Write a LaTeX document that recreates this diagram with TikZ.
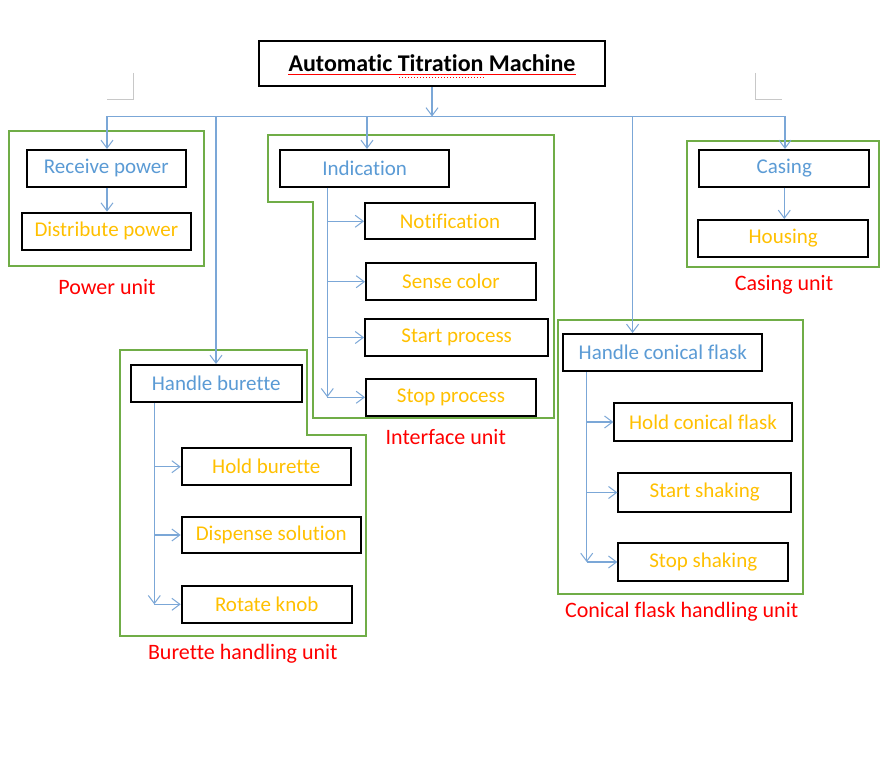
\documentclass[tikz,border=0pt]{standalone}
\usepackage{fontspec}
\setmainfont{Carlito}[Ligatures=NoCommon]
\usetikzlibrary{arrows.meta,calc}
\definecolor{cblue}{HTML}{5B9BD5}
\definecolor{cline}{HTML}{7BA7D7}
\definecolor{cyel}{HTML}{FFC000}
\definecolor{cgreen}{HTML}{70AD47}
\definecolor{cred}{HTML}{FF0000}
\definecolor{cgray}{HTML}{C8C8C8}
\newcommand{\bxfont}{\fontsize{21pt}{24pt}\selectfont}
\newcommand{\lbfont}{\fontsize{22pt}{26pt}\selectfont}
\newcommand{\ttlfont}{\fontsize{24pt}{28pt}\selectfont\bfseries}
\tikzset{
  bx/.style={draw=black, line width=2pt, inner sep=0pt, font=\bxfont},
  bxtop/.style={bx, text=cblue},
  bxsub/.style={bx, text=cyel},
  unitline/.style={draw=cgreen, line width=2pt},
  conn/.style={draw=cline, line width=1.2pt},
  arr/.style={conn, -{Straight Barb[length=8pt,width=12pt,line width=1pt]}},
  unitlabel/.style={text=cred, font=\lbfont, inner sep=0pt},
  cornermark/.style={draw=cgray, line width=1pt}
}
\begin{document}
\begin{tikzpicture}[x=1pt,y=-1pt]
\useasboundingbox (0,0) rectangle (886,770);
\fill[white] (0,0) rectangle (886,770);

% corner marks
\draw[cornermark] (133,73) -- (133,100) -- (107,100);
\draw[cornermark] (755,73) -- (755,100) -- (782,100);

% title
\node[bx, line width=2.5pt, minimum width=346pt, minimum height=45pt, font=\ttlfont] (title) at (432,63.5) {Automatic Titration Machine};
\draw[cred, line width=1.5pt] (288,74.5) -- (576,74.5);
\draw[cred, line width=1pt, dotted] (399,77.5) -- (485,77.5);

% green unit outlines
\draw[unitline] (9,131) rectangle (204,266);
\draw[unitline] (268.3,135) -- (554.3,135) -- (554.3,418.3) -- (313.3,418.3) -- (313.3,201.7) -- (268.3,201.7) -- cycle;
\draw[unitline] (120,350) -- (306.7,350) -- (306.7,435) -- (366,435) -- (366,635.7) -- (120,635.7) -- cycle;
\draw[unitline] (558.3,320) rectangle (803.3,594);
\draw[unitline] (687.3,141) rectangle (879.3,267.3);

% boxes
\node[bxtop, minimum width=159.3pt, minimum height=36.7pt] (rp) at (106.3,168.3) {Receive power};
\node[bxsub, minimum width=169.3pt, minimum height=37.3pt] (dp) at (106.3,231.3) {Distribute power};

\node[bxtop, minimum width=169.3pt, minimum height=36.7pt] (ind) at (364.7,168.3) {Indication};
\node[bxsub, minimum width=170pt, minimum height=36pt] (notif) at (450,221.3) {Notification};
\node[bxsub, minimum width=170pt, minimum height=36.7pt] (sense) at (451,281.7) {Sense color};
\node[bxsub, minimum width=183.3pt, minimum height=37pt] (startp) at (456.7,337.5) {Start process};
\node[bxsub, minimum width=170pt, minimum height=36.7pt] (stopp) at (451,397.3) {Stop process};

\node[bxtop, minimum width=171pt, minimum height=36.7pt] (hb) at (216.2,383.3) {Handle burette};
\node[bxsub, minimum width=169.3pt, minimum height=36.7pt] (holdb) at (266.3,466.7) {Hold burette};
\node[bxsub, minimum width=179.3pt, minimum height=36.7pt] (disp) at (271.3,535) {Dispense solution};
\node[bxsub, minimum width=170pt, minimum height=36.7pt] (rot) at (266.7,604.3) {Rotate knob};

\node[bxtop, minimum width=199pt, minimum height=37pt] (hcf) at (662.8,352.5) {Handle conical flask};
\node[bxsub, minimum width=177.3pt, minimum height=37.3pt] (holdf) at (703,422) {Hold conical flask};
\node[bxsub, minimum width=172.7pt, minimum height=38.3pt] (startsh) at (704.7,492.5) {Start shaking};
\node[bxsub, minimum width=170pt, minimum height=37.3pt] (stopsh) at (703.3,562) {Stop shaking};

\node[bxtop, minimum width=170pt, minimum height=36.7pt] (casing) at (784.3,168.3) {Casing};
\node[bxsub, minimum width=169.7pt, minimum height=36.7pt] (housing) at (783.2,238.3) {Housing};

% labels
\node[unitlabel] (lpow) at (107,287) {Power unit};
\node[unitlabel] (lint) at (445.8,436.7) {Interface unit};
\node[unitlabel] (lbur) at (242.8,653.3) {Burette handling unit};
\node[unitlabel] (lcon) at (681.7,611.7) {Conical flask handling unit};
\node[unitlabel] (lcas) at (784,285) {Casing unit};

% bus
\coordinate (bus) at (432,116.5);
\coordinate (bL) at (107,116.5);
\coordinate (bR) at (785,116.5);
\coordinate (b2) at (216,116.5);
\coordinate (b3) at (367,116.5);
\coordinate (b4) at (632.6,116.5);
\draw[arr] (title.south) -- (bus);
\draw[conn] (bL) -- (bR);
\draw[arr] (bL) -- (bL |- rp.north);
\draw[arr] (b2) -- (b2 |- hb.north);
\draw[arr] (b3) -- (b3 |- ind.north);
\draw[arr] (b4) -- (b4 |- hcf.north);
\draw[arr] (bR) -- (bR |- casing.north);

% simple chains
\draw[arr] (rp.south -| bL) -- (dp.north -| bL);
\draw[arr] (casing.south) -- (casing.south |- housing.north);

% interface trunk
\coordinate (ti) at (327.3,0);
\draw[arr] (ti |- ind.south) -- (ti |- stopp.west);
\draw[arr] (ti |- notif.west) -- (notif.west);
\draw[arr] (ti |- sense.west) -- (sense.west);
\draw[arr] (ti |- startp.west) -- (startp.west);
\draw[arr] (ti |- stopp.west) -- (stopp.west);

% burette trunk
\coordinate (tb) at (154.3,0);
\draw[arr] (tb |- hb.south) -- (tb |- rot.west);
\draw[arr] (tb |- holdb.west) -- (holdb.west);
\draw[arr] (tb |- disp.west) -- (disp.west);
\draw[arr] (tb |- rot.west) -- (rot.west);

% conical trunk
\coordinate (tc) at (586.7,0);
\draw[arr] (tc |- hcf.south) -- (tc |- stopsh.west);
\draw[arr] (tc |- holdf.west) -- (holdf.west);
\draw[arr] (tc |- startsh.west) -- (startsh.west);
\draw[arr] (tc |- stopsh.west) -- (stopsh.west);
\end{tikzpicture}
\end{document}
